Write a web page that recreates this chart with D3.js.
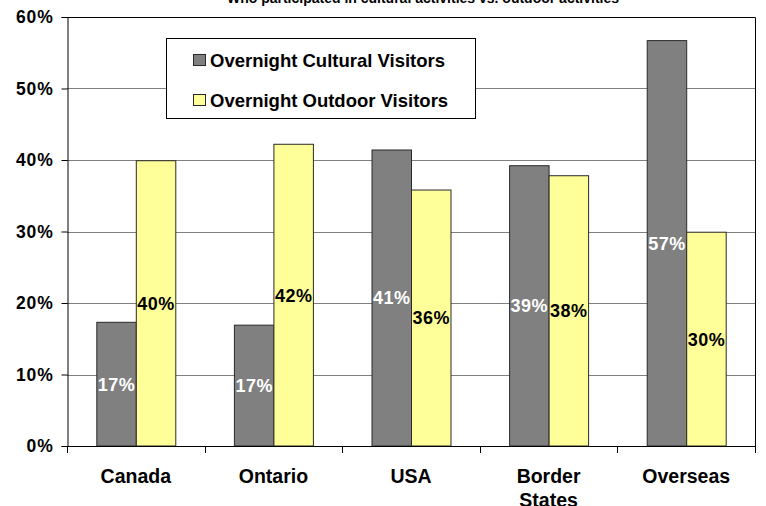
<!DOCTYPE html>
<html>
<head>
<meta charset="utf-8">
<script src="https://cdn.jsdelivr.net/npm/d3@7"></script>
<style>
  html, body { margin: 0; padding: 0; background: #fff; }
  svg { display: block; }
  text { font-family: "Liberation Sans", Arial, Helvetica, sans-serif; font-weight: bold; }
</style>
</head>
<body>
<svg id="chart" width="766" height="506"></svg>
<script>
// Share of overnight visitors by origin
const titleText = "Who participated in cultural activities vs. outdoor activities";
const categories = ["Canada", "Ontario", "USA", "Border States", "Overseas"];
const seriesNames = ["Overnight Cultural Visitors", "Overnight Outdoor Visitors"];
const culturalValues = [17.3, 16.9, 41.4, 39.2, 56.7];
const outdoorValues = [39.9, 42.2, 35.8, 37.8, 29.9];
const yTicks = [0, 10, 20, 30, 40, 50, 60];

const seriesColors = ["#808080", "#FFFF99"];
const labelColors = ["#ffffff", "#000000"];

const svg = d3.select("#chart");
const plot = { left: 67, right: 755, top: 17, bottom: 446 };

const x0 = d3.scaleBand().domain(categories).range([plot.left, plot.right]).padding(0);
const x1 = d3.scaleBand().domain(seriesNames).range([0, x0.bandwidth()])
  .paddingInner(0).paddingOuter(0.742);
const y = d3.scaleLinear().domain([0, 60]).range([plot.bottom, plot.top]);

// Title (runs off the top edge)
svg.append("text")
  .attr("x", 423).attr("y", 3)
  .attr("text-anchor", "middle")
  .attr("font-size", 14)
  .text(titleText);

// Horizontal gridlines
svg.append("g").selectAll("line")
  .data(yTicks.filter(t => t > 0 && t < 60))
  .join("line")
  .attr("x1", plot.left).attr("x2", plot.right)
  .attr("y1", d => Math.round(y(d)) + 0.5).attr("y2", d => Math.round(y(d)) + 0.5)
  .attr("stroke", "#808080").attr("stroke-width", 1);

// Frame: top and right edges
svg.append("path")
  .attr("d", `M${plot.left},${Math.round(y(60)) + 0.5}H${plot.right + 0.5}V${plot.bottom}`)
  .attr("fill", "none").attr("stroke", "#000").attr("stroke-width", 1);

// Bars
const rows = categories.map((c, i) => ({ cat: c, values: [culturalValues[i], outdoorValues[i]] }));
const groups = svg.append("g").selectAll("g")
  .data(rows).join("g")
  .attr("transform", d => `translate(${x0(d.cat)},0)`);

groups.selectAll("rect")
  .data(d => d.values.map((v, k) => ({ v, k })))
  .join("rect")
  .attr("x", d => x1(seriesNames[d.k]) + 0.5)
  .attr("y", d => y(d.v))
  .attr("width", x1.bandwidth())
  .attr("height", d => y(0) - y(d.v))
  .attr("fill", d => seriesColors[d.k])
  .attr("stroke", "#2a2a2a").attr("stroke-width", 1);

// Value labels centred in the bars
groups.selectAll("text")
  .data(d => d.values.map((v, k) => ({ v, k })))
  .join("text")
  .attr("x", d => x1(seriesNames[d.k]) + x1.bandwidth() / 2 + 0.5)
  .attr("y", d => (y(d.v) + y(0)) / 2)
  .attr("dy", "0.36em")
  .attr("text-anchor", "middle")
  .attr("font-size", 18)
  .attr("letter-spacing", 0.5)
  .attr("fill", d => labelColors[d.k])
  .text(d => Math.round(d.v) + "%");

// Y axis
const yAxis = svg.append("g")
  .attr("transform", `translate(${plot.left + 0.5},0)`)
  .call(d3.axisLeft(y).tickValues(yTicks).tickSize(6).tickPadding(8)
    .tickFormat(d => d + "%"));
yAxis.select(".domain").attr("stroke", "#000");
yAxis.selectAll(".tick line").attr("stroke", "#000");
yAxis.selectAll(".tick text")
  .attr("font-size", 17.5).attr("letter-spacing", 0.8)
  .attr("font-family", "'Liberation Sans', Arial, sans-serif")
  .attr("font-weight", "bold").attr("fill", "#000");

// X axis with ticks on the category boundaries
const xBase = svg.append("g");
xBase.append("line")
  .attr("x1", plot.left).attr("x2", plot.right + 1)
  .attr("y1", plot.bottom + 0.5).attr("y2", plot.bottom + 0.5)
  .attr("stroke", "#000");
const boundaries = categories.map(c => x0(c)).concat([x0(categories[categories.length - 1]) + x0.bandwidth()]);
xBase.selectAll("line.tick")
  .data(boundaries).join("line").attr("class", "tick")
  .attr("x1", d => Math.round(d) + 0.5).attr("x2", d => Math.round(d) + 0.5)
  .attr("y1", plot.bottom).attr("y2", plot.bottom + 7)
  .attr("stroke", "#000");

// Category labels, wrapped when too wide for the band
const catLabels = xBase.selectAll("text.cat")
  .data(categories).join("text").attr("class", "cat")
  .attr("x", d => x0(d) + x0.bandwidth() / 2)
  .attr("y", 483)
  .attr("text-anchor", "middle")
  .attr("font-size", 19.5)
  .attr("fill", "#000");
catLabels.each(function (d) {
  const t = d3.select(this);
  const words = d.split(" ");
  let line = [];
  let tspan = t.append("tspan").attr("x", x0(d) + x0.bandwidth() / 2).attr("dy", 0);
  words.forEach(w => {
    line.push(w);
    tspan.text(line.join(" "));
    if (tspan.node().getComputedTextLength() > 110 && line.length > 1) {
      line.pop();
      tspan.text(line.join(" "));
      line = [w];
      tspan = t.append("tspan").attr("x", x0(d) + x0.bandwidth() / 2).attr("dy", 24).text(w);
    }
  });
});

// Legend
const legend = svg.append("g");
legend.append("rect")
  .attr("x", 166.5).attr("y", 38.5).attr("width", 309).attr("height", 80)
  .attr("fill", "#fff").attr("stroke", "#000").attr("stroke-width", 1);
const legendRows = legend.selectAll("g.item")
  .data(seriesNames).join("g").attr("class", "item")
  .attr("transform", (d, i) => `translate(0,${60 + i * 40})`);
legendRows.append("rect")
  .attr("x", 193.5).attr("y", -5.5).attr("width", 12).attr("height", 11)
  .attr("fill", (d, i) => seriesColors[i]).attr("stroke", "#2a2a2a");
legendRows.append("text")
  .attr("x", 210).attr("y", 0).attr("dy", "0.36em")
  .attr("font-size", 18.5).attr("fill", "#000")
  .text(d => d);
</script>
</body>
</html>
